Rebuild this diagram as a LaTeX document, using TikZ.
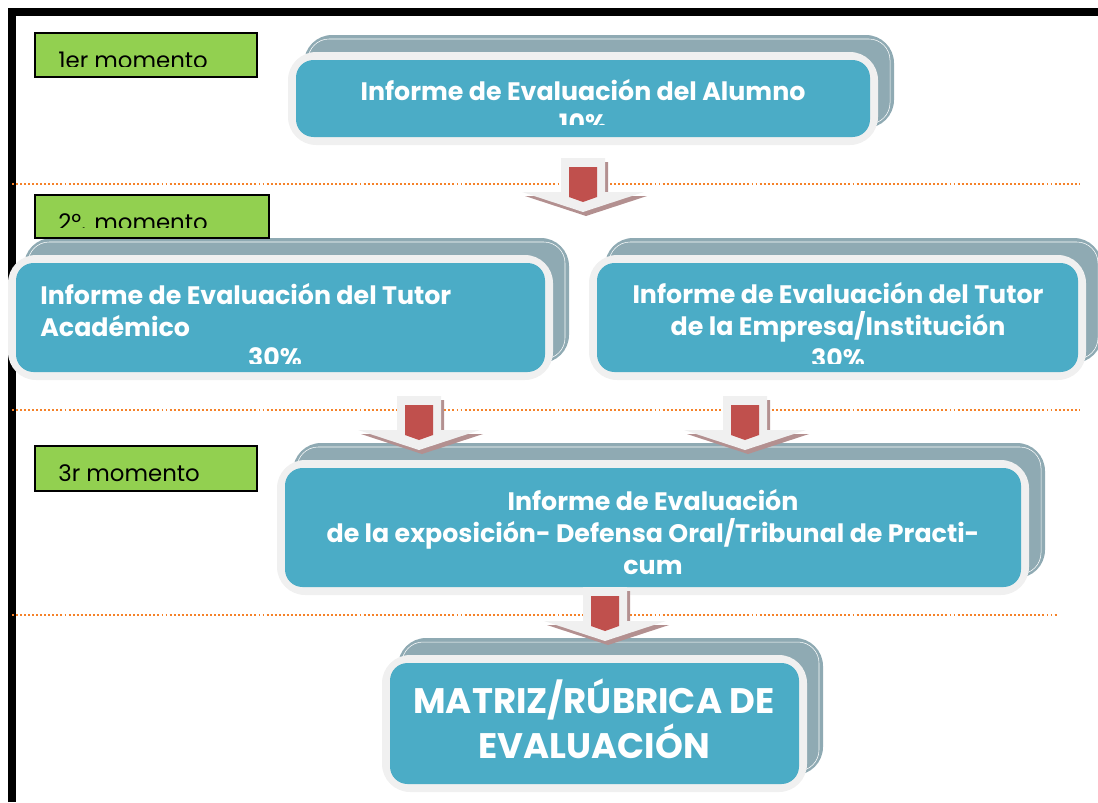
\documentclass[tikz,border=0pt]{standalone}
\usepackage{fontspec}
\setmainfont{Poppins}
\usetikzlibrary{calc}

\definecolor{boxblue}{HTML}{4BACC6}
\definecolor{rimgray}{HTML}{F0F0F0}
\definecolor{shadowgray}{HTML}{8FAAB3}
\definecolor{labelgreen}{HTML}{92D050}
\definecolor{arrowred}{HTML}{C0504D}
\definecolor{arrowshade}{HTML}{B39090}
\definecolor{lineorange}{HTML}{F5822A}

% box with shadow, rim and blue face: name, top left, bottom right
\newcommand\stagebox[3]{%
  \fill[shadowgray,rounded corners=16] ($(#2)+(16,-17)$) rectangle ($(#3)+(16,-17)$);
  \draw[white,line width=0.3pt,rounded corners=12] ($(#2)+(20,-13)$) rectangle ($(#3)+(12,-21)$);
  \fill[rimgray,rounded corners=16] (#2) rectangle (#3);
  \fill[boxblue,rounded corners=10] ($(#2)+(8,8)$) rectangle ($(#3)+(-8,-8)$);
  \coordinate (#1) at ($(#2)!.5!(#3)$);
}

% block arrow pointing down, given the top of its shaft
\newcommand\stagearrow[1]{%
  \begin{scope}[shift={(#1)}]
    \fill[arrowshade] (-19,4) -- (25,4) -- (25,38) -- (64,38) -- (3,58) -- (-58,38) -- (-19,38) -- cycle;
    \fill[rimgray] (-22,0) -- (22,0) -- (22,34) -- (61,34) -- (0,54) -- (-61,34) -- (-22,34) -- cycle;
    \fill[arrowred] (-14,9) -- (14,9) -- (14,39) -- (0,44) -- (-14,39) -- cycle;
  \end{scope}
}

\begin{document}
\begin{tikzpicture}[x=0.02cm,y=-0.02cm,
    boxtext/.style={text=white,font=\bfseries\fontsize{14.4}{18}\selectfont,inner sep=0pt},
    bigtext/.style={text=white,font=\bfseries\fontsize{20.2}{25.6}\selectfont,inner sep=0pt},
    labelbox/.style={draw=black,line width=1pt,fill=labelgreen},
    labeltext/.style={font=\fontsize{13}{15}\selectfont,inner sep=0pt,anchor=base west},
    stageline/.style={lineorange,line width=1.1pt,dash pattern=on 1.1pt off 1.2pt}]
    \useasboundingbox (0,0) rectangle (1098,802);

    % frame
    \draw[line width=4.55pt] (12,802) -- (12,12) -- (1098,12);

    % dotted lines between the moments
    \draw[stageline] (12,184) -- (1080,184);
    \draw[stageline] (12,410) -- (1080,410);
    \draw[stageline] (12,615) -- (1058,615);

    % boxes
    \stagebox{alumnobox}{288,52}{878,145}
    \begin{scope}
        \clip (296,60) rectangle (870,124);
        \node[boxtext,align=center] (alumno) at (583,106) {Informe de Evaluación del Alumno\\10\%};
    \end{scope}

    \stagebox{tutoracadbox}{8,255}{553,380}
    \begin{scope}
        \clip (16,263) rectangle (545,363);
        \node[boxtext,align=left,anchor=west] (tutoracad) at (40,310) {Informe de Evaluación del Tutor\\Académico};
        \node[boxtext] (tutoracadpct) at (275,357) {30\%};
    \end{scope}

    \stagebox{tutorempbox}{589,255}{1086,380}
    \begin{scope}
        \clip (597,263) rectangle (1078,363);
        \node[boxtext,align=center] (tutoremp) at (838,325) {Informe de Evaluación del Tutor\\de la Empresa/Institución\\30\%};
    \end{scope}

    \stagebox{defensabox}{277,460}{1029,595}
    \node[boxtext,align=center] (defensa) at (653,532) {Informe de Evaluación\\de la exposición- Defensa Oral/Tribunal de Practi-\\cum};

    \stagebox{matrizbox}{382,655}{807,792}
    \node[bigtext,align=center] (matriz) at (594,719) {MATRIZ/RÚBRICA DE\\EVALUACIÓN};

    % arrows
    \stagearrow{583,158}
    \stagearrow{419,396}
    \stagearrow{745,396}
    \stagearrow{605,587}

    % moments
    \draw[labelbox] (35,33) rectangle (257,77);
    \begin{scope}
        \clip (35,33) rectangle (257,66);
        \node[labeltext] (momento1) at (58,68) {1er momento};
    \end{scope}

    \draw[labelbox] (35,195) rectangle (269,238);
    \begin{scope}
        \clip (35,195) rectangle (269,227);
        \node[labeltext] (momento2) at (58,230) {2º. momento};
    \end{scope}

    \draw[labelbox] (35,446) rectangle (257,491);
    \node[labeltext] (momento3) at (58,481) {3r momento};

\end{tikzpicture}
\end{document}
